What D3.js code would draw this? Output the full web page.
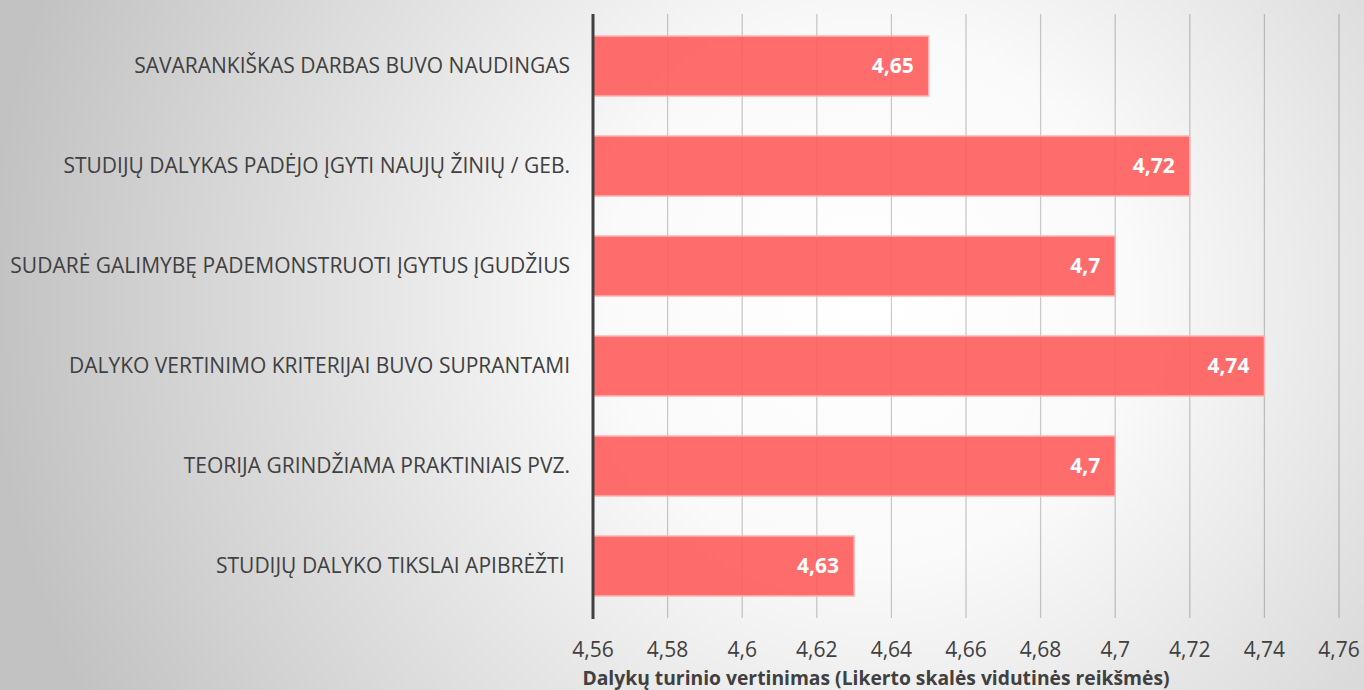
<!DOCTYPE html>
<html>
<head>
  <style>
    body { margin: 0; }
    text { font-family: "Open Sans", sans-serif; }
  </style>
</head>
<body>
<script src="https://d3js.org/d3.v7.min.js"></script>
<svg id="chart"></svg>
<script>
  // categories top to bottom
  var categories = [
    "SAVARANKIŠKAS DARBAS BUVO NAUDINGAS",
    "STUDIJŲ DALYKAS PADĖJO ĮGYTI NAUJŲ ŽINIŲ / GEB.",
    "SUDARĖ GALIMYBĘ PADEMONSTRUOTI ĮGYTUS ĮGUDŽIUS",
    "DALYKO VERTINIMO KRITERIJAI BUVO SUPRANTAMI",
    "TEORIJA GRINDŽIAMA PRAKTINIAIS PVZ.",
    "STUDIJŲ DALYKO TIKSLAI APIBRĖŽTI "
  ];
  var values = [4.65, 4.72, 4.7, 4.74, 4.7, 4.63];
  var valueLabels = ["4,65", "4,72", "4,7", "4,74", "4,7", "4,63"];
  var ticks = [4.56, 4.58, 4.6, 4.62, 4.64, 4.66, 4.68, 4.7, 4.72, 4.74, 4.76];
  var tickLabels = ["4,56", "4,58", "4,6", "4,62", "4,64", "4,66", "4,68", "4,7", "4,72", "4,74", "4,76"];
  var axisTitle = "Dalykų turinio vertinimas (Likerto skalės vidutinės reikšmės)";

  var width = 1364, height = 690;
  var svg = d3.select("#chart").attr("width", width).attr("height", height);

  // background
  var grad = svg.append("defs").append("radialGradient")
    .attr("id", "bg")
    .attr("gradientUnits", "userSpaceOnUse")
    .attr("cx", 870).attr("cy", 300).attr("r", 880);
  grad.append("stop").attr("offset", 0).attr("stop-color", "#ffffff");
  grad.append("stop").attr("offset", 0.3).attr("stop-color", "#fafafa");
  grad.append("stop").attr("offset", 1).attr("stop-color", "#c2c2c2");
  svg.append("rect").attr("width", width).attr("height", height).attr("fill", "url(#bg)");

  var x = d3.scaleLinear().domain([4.56, 4.76]).range([593, 1339]);
  var y = d3.scaleBand().domain(categories).range([16, 616]).paddingInner(0.4).paddingOuter(0.2);

  // gridlines + tick marks
  svg.append("g").selectAll("line")
    .data(ticks.slice(1))
    .join("line")
    .attr("x1", function(d) { return x(d); })
    .attr("x2", function(d) { return x(d); })
    .attr("y1", 14).attr("y2", 618)
    .attr("stroke", "#000").attr("stroke-opacity", 0.2).attr("stroke-width", 1.3);

  // bars
  svg.append("g").selectAll("rect")
    .data(values)
    .join("rect")
    .attr("x", x(4.56))
    .attr("y", function(d, i) { return y(categories[i]); })
    .attr("width", function(d) { return x(d) - x(4.56); })
    .attr("height", y.bandwidth())
    .attr("fill", "#ff5c5c")
    .attr("fill-opacity", 0.9)
    .attr("stroke", "#ffb3b3")
    .attr("stroke-width", 1.5);

  // value labels
  svg.append("g").selectAll("text")
    .data(values)
    .join("text")
    .attr("x", function(d) { return x(d) - 15; })
    .attr("y", function(d, i) { return y(categories[i]) + y.bandwidth() / 2; })
    .attr("dy", "0.35em")
    .attr("text-anchor", "end")
    .attr("fill", "#fff")
    .attr("font-weight", "bold")
    .attr("font-size", "21px")
    .text(function(d, i) { return valueLabels[i]; });

  // category labels
  svg.append("g").selectAll("text")
    .data(categories)
    .join("text")
    .attr("x", 570)
    .attr("y", function(d) { return y(d) + y.bandwidth() / 2; })
    .attr("dy", "0.35em")
    .attr("text-anchor", "end")
    .attr("fill", "#404040")
    .attr("font-size", "21px")
    .style("white-space", "pre")
    .text(function(d) { return d; });

  // y axis line
  svg.append("line")
    .attr("x1", x(4.56)).attr("x2", x(4.56))
    .attr("y1", 14).attr("y2", 619)
    .attr("stroke", "#404040").attr("stroke-width", 3);

  // x tick labels
  svg.append("g").selectAll("text")
    .data(ticks)
    .join("text")
    .attr("x", function(d) { return x(d); })
    .attr("y", 650)
    .attr("dy", "0.35em")
    .attr("text-anchor", "middle")
    .attr("fill", "#404040")
    .attr("font-size", "21px")
    .text(function(d, i) { return tickLabels[i]; });

  // axis title
  svg.append("text")
    .attr("x", 876)
    .attr("y", 678)
    .attr("dy", "0.35em")
    .attr("text-anchor", "middle")
    .attr("fill", "#404040")
    .attr("font-weight", "bold")
    .attr("font-size", "19.3px")
    .text(axisTitle);
</script>
</body>
</html>
